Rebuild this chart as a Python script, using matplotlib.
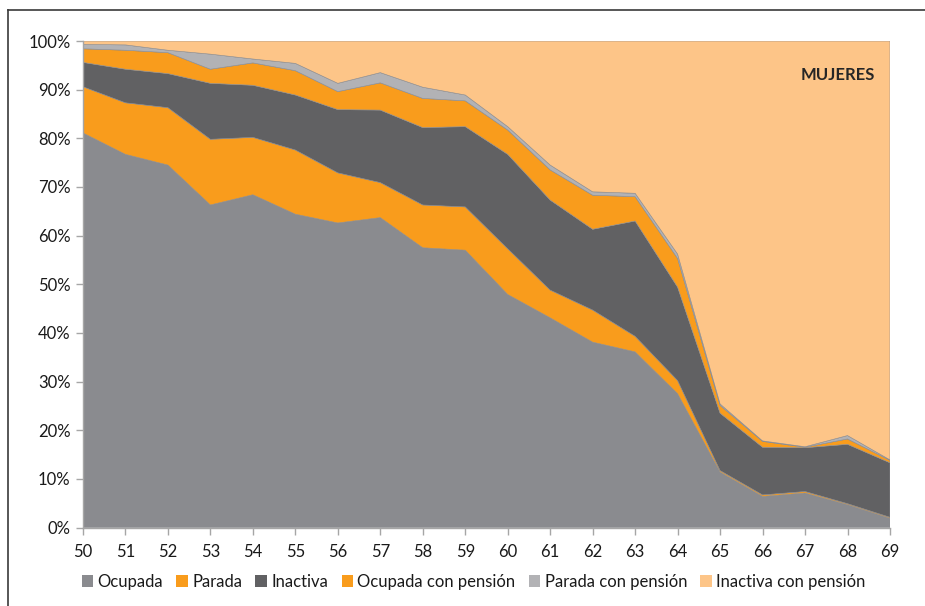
import matplotlib.pyplot as plt
from matplotlib.patches import Patch
from matplotlib.lines import Line2D
from matplotlib.ticker import PercentFormatter

plt.rcParams['font.family'] = ['Lato', 'DejaVu Sans']

# edades y composición (%) de cada grupo
edades = list(range(50, 70))
ocupada = [81.1, 76.7, 74.5, 66.3, 68.4, 64.4, 62.6, 63.7, 57.5, 57.0,
           47.9, 43.1, 38.1, 36.1, 27.5, 11.4, 6.4, 7.1, 4.7, 1.9]
parada = [9.5, 10.6, 11.8, 13.5, 11.8, 13.2, 10.3, 7.2, 8.8, 8.9,
          9.4, 5.7, 6.6, 3.2, 2.7, 0.3, 0.3, 0.3, 0.2, 0.2]
inactiva = [5.0, 6.9, 7.0, 11.5, 10.7, 11.3, 13.0, 14.9, 15.9, 16.5,
            19.4, 18.5, 16.6, 23.7, 19.2, 11.8, 9.8, 9.0, 12.2, 11.2]
ocupada_pension = [2.8, 3.9, 4.3, 2.9, 4.6, 5.0, 3.7, 5.6, 6.0, 5.3,
                   5.0, 6.2, 7.0, 5.0, 5.9, 1.6, 1.2, 0.1, 1.1, 0.5]
parada_pension = [0.9, 1.1, 0.5, 3.1, 0.8, 1.5, 1.7, 2.1, 2.3, 1.2,
                  0.7, 1.0, 0.7, 0.7, 0.9, 0.3, 0.1, 0.1, 0.7, 0.1]
inactiva_pension = [0.7, 0.8, 1.9, 2.7, 3.7, 4.6, 8.7, 6.5, 9.5, 11.1,
                    17.6, 25.5, 31.0, 31.3, 43.8, 74.6, 82.2, 83.4, 81.1, 86.1]

series = [ocupada, parada, inactiva, ocupada_pension, parada_pension, inactiva_pension]
etiquetas = ['Ocupada', 'Parada', 'Inactiva', 'Ocupada con pensión',
             'Parada con pensión', 'Inactiva con pensión']
colores = ['#8a8b8f', '#f99c1c', '#616163', '#f99c1c', '#b2b2b5', '#fdc588']

fig = plt.figure(figsize=(9.25, 6.06), dpi=100)
ax = fig.add_axes([83 / 925, 1 - 527.5 / 606, (890 - 83) / 925, (527.5 - 41) / 606])

ax.stackplot(edades, *series, colors=colores, linewidth=0.4, edgecolors=colores)

ax.set_xlim(50, 69)
ax.set_ylim(0, 100)
ax.set_xticks(edades)
ax.set_yticks(range(0, 101, 10))
ax.yaxis.set_major_formatter(PercentFormatter(decimals=0))
ax.tick_params(axis='both', colors='#a6a6a6', labelcolor='#1a1a1a', labelsize=12,
               length=5, width=1)
ax.tick_params(axis='x', pad=7)
ax.tick_params(axis='y', pad=4)
for lado in ['top', 'right']:
    ax.spines[lado].set_visible(False)
for lado in ['left', 'bottom']:
    ax.spines[lado].set_color('#a6a6a6')
    ax.spines[lado].set_linewidth(1)

ax.text(0.981, 0.93, 'MUJERES', transform=ax.transAxes, ha='right', va='center',
        fontsize=12, fontweight='bold', color='#262626')

handles = [Patch(facecolor=c, edgecolor='none') for c in colores]
fig.legend(handles, etiquetas, loc='center', bbox_to_anchor=(0.512, 1 - 582 / 606),
           ncol=6, frameon=False, fontsize=12, handlelength=0.7, handleheight=0.7,
           handletextpad=0.25, columnspacing=0.8, labelcolor='#1a1a1a')

# marco del gráfico (solo visible arriba y a la izquierda)
fig.add_artist(Line2D([8 / 925, 8 / 925], [0, 1 - 10 / 606], transform=fig.transFigure,
                      color='#3a3a3a', linewidth=1.2))
fig.add_artist(Line2D([8 / 925, 1], [1 - 10 / 606, 1 - 10 / 606], transform=fig.transFigure,
                      color='#3a3a3a', linewidth=1.2))

fig.savefig('out.png', dpi=100)
